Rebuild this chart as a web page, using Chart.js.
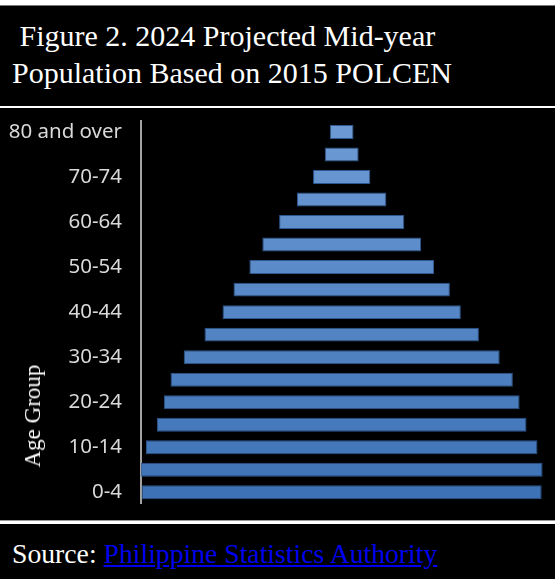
<!DOCTYPE html>
<html>
<head>
<meta charset="utf-8">
<script src="https://cdn.jsdelivr.net/npm/chart.js@4"></script>
<style>
  html, body { margin: 0; padding: 0; background: #000; }
  #page { position: relative; width: 555px; height: 579px; overflow: hidden; background: #000; }
  .topband { position: absolute; left: 0; top: 0; width: 555px; height: 5px; background: #fff; border-bottom: 1px solid #777; }
  .title { position: absolute; left: 12px; top: 16.8px; color: #fff; font-family: "Liberation Serif", "Times New Roman", serif; font-size: 30px; line-height: 37.6px; white-space: pre; }
  .rule-top { position: absolute; left: 0; top: 106px; width: 555px; height: 2px; background: #fff; }
  .rule-bottom { position: absolute; left: 0; top: 520px; width: 555px; height: 3px; background: #fff; border-top: 1px solid #999; }
  .age-title { position: absolute; left: 33px; top: 416px; transform: translate(-50%, -50%) rotate(-90deg); color: #fff; font-family: "Liberation Serif", serif; font-size: 23px; white-space: nowrap; }
  .source { position: absolute; left: 12px; top: 537.8px; color: #fff; font-family: "Liberation Serif", serif; font-size: 27.7px; line-height: 32px; white-space: nowrap; }
  .source a { color: #0000ee; }
  canvas { position: absolute; left: 0; top: 110px; }
</style>
</head>
<body>
<div id="page">
  <div class="topband"></div>
  <div class="title"> Figure 2. 2024 Projected Mid-year
Population Based on 2015 POLCEN</div>
  <div class="rule-top"></div>
  <canvas id="pyramidChart" width="555" height="400"></canvas>
  <div class="age-title">Age Group</div>
  <div class="rule-bottom"></div>
  <div class="source">Source: <a href="#">Philippine Statistics Authority</a></div>
</div>
<script>
// age groups, youngest first (drawn bottom-up)
const ageGroups = ['0-4', '5-9', '10-14', '15-19', '20-24', '25-29', '30-34', '35-39', '40-44',
    '45-49', '50-54', '55-59', '60-64', '65-69', '70-74', '75-79', '80 and over'];

// projected 2024 mid-year population, thousands
const population = [10960, 11010, 10730, 10130, 9750, 9380, 8660, 7520, 6530,
    5930, 5060, 4350, 3430, 2450, 1570, 930, 650];

// bars are centred on zero, so each one spans half its value either side
const barSpans = population.map(v => [-v / 2, v / 2]);

let barGradient = null;
function barFill(context) {
    const area = context.chart.chartArea;
    if (!area) return '#4f82c2';
    if (!barGradient) {
        barGradient = context.chart.ctx.createLinearGradient(0, area.top, 0, area.bottom);
        barGradient.addColorStop(0, '#6e9bd5');
        barGradient.addColorStop(1, '#3c71b5');
    }
    return barGradient;
}

const ctx = document.getElementById('pyramidChart').getContext('2d');
const pyramidChart = new Chart(ctx, {
    type: 'bar',
    data: {
        labels: ageGroups,
        datasets: [{
            label: 'Population',
            data: barSpans,
            backgroundColor: barFill,
            borderColor: '#2c578f',
            borderWidth: 1,
            borderSkipped: false,
            barPercentage: 0.62,
            categoryPercentage: 1
        }]
    },
    options: {
        indexAxis: 'y',
        responsive: false,
        devicePixelRatio: 1,
        animation: false,
        layout: { padding: { top: 10.75, bottom: 6.5, left: 0, right: 4 } },
        plugins: { legend: { display: false }, tooltip: { enabled: false } },
        scales: {
            x: { display: false, min: -5500, max: 5736 },
            y: {
                reverse: true,
                grid: { display: false, drawTicks: false },
                border: { display: true, color: '#a3a3a3', width: 2 },
                afterFit: (scale) => {
                    scale.width = 141;
                    // labels sit inside the bands, no extra room needed above/below
                    scale.paddingTop = 0;
                    scale.paddingBottom = 0;
                },
                ticks: {
                    autoSkip: false,
                    padding: 19,
                    color: '#d9d9d9',
                    font: { family: 'Noto Sans', size: 20.5 },
                    // only every other age group gets a label
                    callback: (value, index) => index % 2 === 0 ? ageGroups[index] : ''
                }
            }
        }
    }
});
</script>
</body>
</html>
